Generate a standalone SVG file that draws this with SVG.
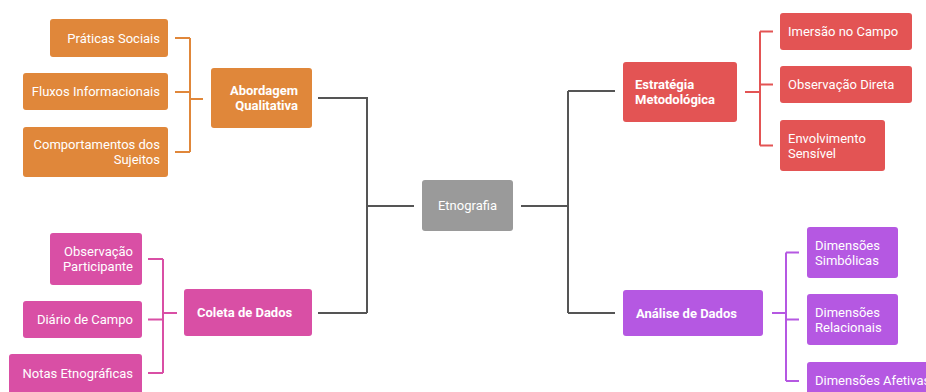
<svg xmlns="http://www.w3.org/2000/svg" width="926" height="392" viewBox="0 0 926 392">
<style>
.t{font-family:Roboto,"Liberation Sans",sans-serif;font-size:13px;fill:#fff}
.b{font-weight:bold}
.e{text-anchor:end}
.m{text-anchor:middle}
.main{fill:none;stroke:#555;stroke-width:2}
.bo{fill:none;stroke:#E0873A;stroke-width:2}
.bp{fill:none;stroke:#D94FA5;stroke-width:2}
.br{fill:none;stroke:#E35454;stroke-width:2}
.bu{fill:none;stroke:#B558E2;stroke-width:2}
.o{fill:#E0873A}.p{fill:#D94FA5}.r{fill:#E35454}.u{fill:#B558E2}.g{fill:#9A9A9A}
</style>
<rect width="926" height="392" fill="#fff"/>
<g id="connectors">
<path class="main" d="M318 98H367V313M318 313H367M367 206H414M521 206H568M568 91V313M568 91H615M568 313H615"/>
<path class="bo" d="M175 38H190M175 92H190M175 152H190M190 38V152M190 99H203"/>
<path class="bp" d="M148 259H163M148 319.5H163M148 373H163M163 259V373M163 313H177"/>
<path class="br" d="M745 92H760M760 31.5H773M760 84.5H773M760 145.5H773M760 31.5V145.5"/>
<path class="bu" d="M772 313H786M786 252.5H799M786 319.5H799M786 381H799M786 252.5V381"/>
</g>
<g id="etnografia"><rect class="g" x="422" y="180" width="91" height="51" rx="3"/><text class="t m" x="467.5" y="210">Etnografia</text></g>
<g id="abordagem"><rect class="o" x="211" y="68" width="101" height="60" rx="3"/><text class="t b e" x="298" y="95">Abordagem</text><text class="t b e" x="298" y="110">Qualitativa</text></g>
<g id="praticas"><rect class="o" x="50" y="19" width="118" height="38" rx="3"/><text class="t e" x="160" y="43">Práticas Sociais</text></g>
<g id="fluxos"><rect class="o" x="23" y="73" width="145" height="37" rx="3"/><text class="t e" x="160" y="96">Fluxos Informacionais</text></g>
<g id="comportamentos"><rect class="o" x="23" y="127" width="145" height="50" rx="3"/><text class="t e" x="160" y="149">Comportamentos dos</text><text class="t e" x="160" y="164">Sujeitos</text></g>
<g id="coleta"><rect class="p" x="184" y="289" width="128" height="47" rx="3"/><text class="t b" x="197" y="317">Coleta de Dados</text></g>
<g id="obsparticipante"><rect class="p" x="50" y="233" width="92" height="52" rx="3"/><text class="t e" x="133" y="256">Observação</text><text class="t e" x="133" y="271">Participante</text></g>
<g id="diario"><rect class="p" x="23" y="301" width="119" height="37" rx="3"/><text class="t e" x="133" y="324">Diário de Campo</text></g>
<g id="notas"><rect class="p" x="9" y="354" width="133" height="40" rx="3"/><text class="t e" x="133" y="378">Notas Etnográficas</text></g>
<g id="estrategia"><rect class="r" x="623" y="62" width="114" height="60" rx="3"/><text class="t b" x="635" y="89">Estratégia</text><text class="t b" x="635" y="104">Metodológica</text></g>
<g id="imersao"><rect class="r" x="780" y="13" width="132" height="37" rx="3"/><text class="t" x="788" y="36">Imersão no Campo</text></g>
<g id="obsdireta"><rect class="r" x="780" y="66" width="132" height="37" rx="3"/><text class="t" x="788" y="89">Observação Direta</text></g>
<g id="envolvimento"><rect class="r" x="780" y="120" width="105" height="51" rx="3"/><text class="t" x="788" y="142.5">Envolvimento</text><text class="t" x="788" y="157.5">Sensível</text></g>
<g id="analise"><rect class="u" x="623" y="290" width="140" height="46" rx="3"/><text class="t b" x="636" y="317.5">Análise de Dados</text></g>
<g id="simbolicas"><rect class="u" x="807" y="227" width="91" height="51" rx="3"/><text class="t" x="815" y="249.5">Dimensões</text><text class="t" x="815" y="264.5">Simbólicas</text></g>
<g id="relacionais"><rect class="u" x="807" y="294" width="91" height="51" rx="3"/><text class="t" x="815" y="316.5">Dimensões</text><text class="t" x="815" y="331.5">Relacionais</text></g>
<g id="afetivas"><rect class="u" x="807" y="362" width="130" height="40" rx="3"/><text class="t" x="815" y="385">Dimensões Afetivas</text></g>
</svg>
